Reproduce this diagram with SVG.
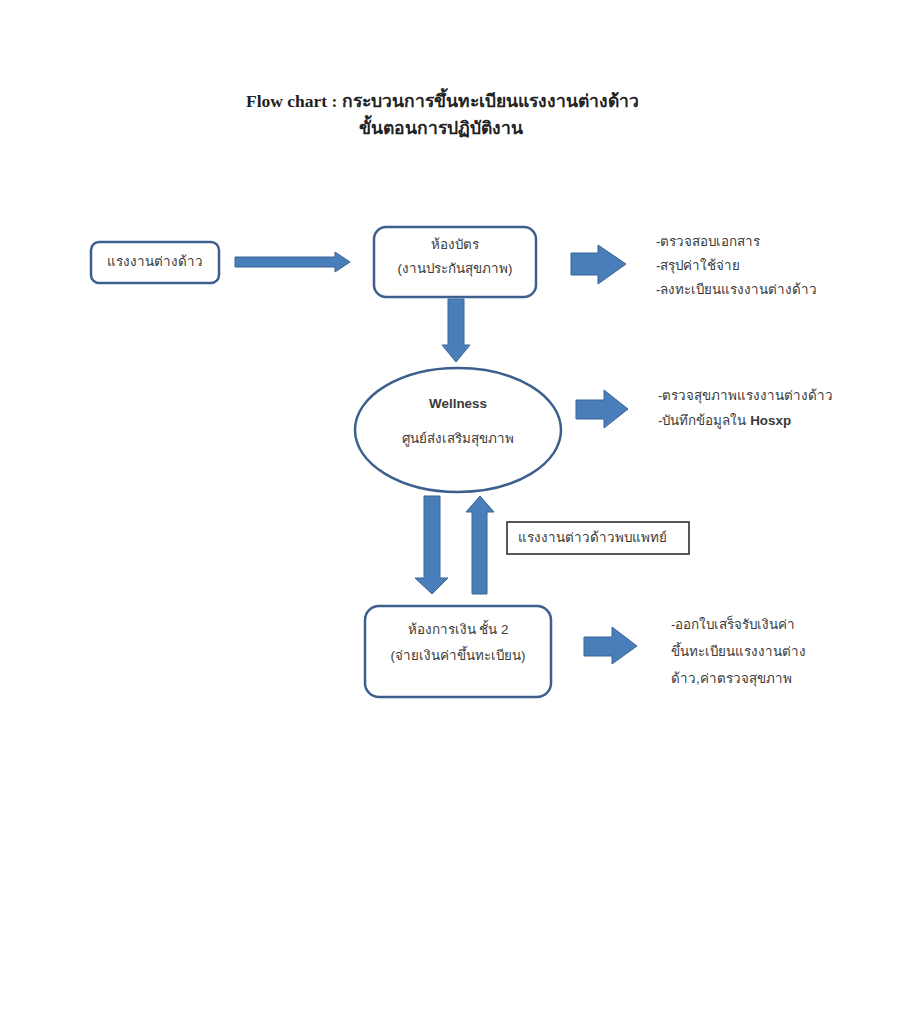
<svg xmlns="http://www.w3.org/2000/svg" width="902" height="1023" viewBox="0 0 902 1023">
<style>
.t{font-family:"Liberation Sans","Noto Sans","DejaVu Sans",sans-serif;font-size:13.4px;fill:#3a3a3a}
.c{text-anchor:middle}
.ttl{font-family:"Liberation Serif","Noto Serif","DejaVu Serif",serif;font-size:17.5px;font-weight:bold;fill:#222}
.nd{fill:#fff;stroke:#3c5f8e;stroke-width:2.5}
.ar{fill:#4a7ebb;stroke:#3a6494;stroke-width:1}
</style>
<rect width="902" height="1023" fill="#fff"/>
<g id="title">
<text class="ttl" x="246" y="107">Flow chart : กระบวนการขึ้นทะเบียนแรงงานต่างด้าว</text>
<text class="ttl" x="441" y="134" text-anchor="middle">ขั้นตอนการปฏิบัติงาน</text>
</g>
<g id="connectors">
<polygon class="ar" points="235,257 335,257 335,252 350,262 335,272 335,267 235,267"/>
<polygon class="ar" points="448,299 464,299 464,345 470,345 456,362 442,345 448,345"/>
<polygon class="ar" points="424,496 440,496 440,578 448,578 432,594 415,578 424,578"/>
<polygon class="ar" points="472,594 487,594 487,512 494,512 480,496 466,512 472,512"/>
<polygon class="ar" points="571,253 598,253 598,245 626,264 598,284 598,275 571,275"/>
<polygon class="ar" points="576,400 604,400 604,390 628,409 604,428 604,419 576,419"/>
<polygon class="ar" points="584,637 612,637 612,627 637,646 612,664 612,656 584,656"/>
</g>
<g id="n-worker">
<rect class="nd" x="91" y="242" width="128" height="41" rx="8"/>
<text class="t c" x="155" y="266">แรงงานต่างด้าว</text>
</g>
<g id="n-card">
<rect class="nd" x="374" y="227" width="162" height="70" rx="12"/>
<text class="t c" x="455" y="249">ห้องบัตร</text>
<text class="t c" x="455" y="273">(งานประกันสุขภาพ)</text>
</g>
<g id="n-card-notes">
<text class="t" x="656" y="246">-ตรวจสอบเอกสาร</text>
<text class="t" x="656" y="270">-สรุปค่าใช้จ่าย</text>
<text class="t" x="656" y="294">-ลงทะเบียนแรงงานต่างด้าว</text>
</g>
<g id="n-wellness">
<ellipse class="nd" cx="458" cy="430" rx="103" ry="62"/>
<text class="t c" x="458" y="408" style="font-weight:bold">Wellness</text>
<text class="t c" x="458" y="443">ศูนย์ส่งเสริมสุขภาพ</text>
</g>
<g id="n-wellness-notes">
<text class="t" x="658" y="400">-ตรวจสุขภาพแรงงานต่างด้าว</text>
<text class="t" x="658" y="425">-บันทึกข้อมูลใน <tspan style="font-weight:bold">Hosxp</tspan></text>
</g>
<g id="n-doctor">
<rect x="507" y="522" width="182" height="32" fill="#fff" stroke="#222" stroke-width="1.5"/>
<text class="t" x="518" y="542">แรงงานต่าวด้าวพบแพทย์</text>
</g>
<g id="n-finance">
<rect class="nd" x="365" y="606" width="186" height="91" rx="14"/>
<text class="t c" x="458" y="634">ห้องการเงิน ชั้น 2</text>
<text class="t c" x="458" y="660">(จ่ายเงินค่าขึ้นทะเบียน)</text>
</g>
<g id="n-finance-notes">
<text class="t" x="671" y="629">-ออกใบเสร็จรับเงินค่า</text>
<text class="t" x="671" y="656">ขึ้นทะเบียนแรงงานต่าง</text>
<text class="t" x="671" y="683">ด้าว,ค่าตรวจสุขภาพ</text>
</g>
</svg>
